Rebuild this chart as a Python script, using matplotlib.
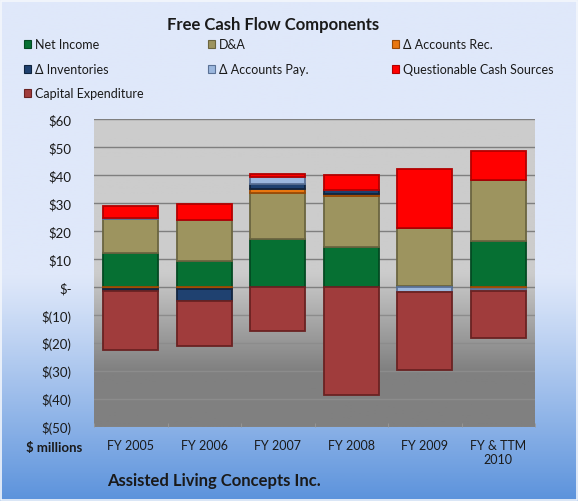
import numpy as np
import matplotlib
matplotlib.use('Agg')
import matplotlib.pyplot as plt
from matplotlib.colors import LinearSegmentedColormap
from matplotlib.patches import Rectangle

plt.rcParams['font.family'] = ['Lato', 'DejaVu Sans']

# data ($ millions)
years = ['FY 2005', 'FY 2006', 'FY 2007', 'FY 2008', 'FY 2009', 'FY & TTM\n2010']
net_income = [12.3, 9.4, 17.1, 14.3, 0.3, 16.5]
dna = [12.0, 14.6, 16.6, 18.2, 20.7, 21.7]
d_acc_rec = [-0.6, -0.7, 1.4, 0.6, 0.0, -0.7]
d_inventories = [-0.8, -4.2, 1.7, 1.5, 0.0, 0.0]
d_acc_pay = [0.4, 0.0, 2.4, 0.0, -1.7, -0.9]
questionable = [4.3, 5.8, 1.3, 5.5, 21.2, 10.3]
capex = [-21.0, -16.0, -15.8, -38.5, -27.9, -16.6]

series = [
    ('Net Income', net_income, '#067033', '#034a22'),
    ('D&A', dna, '#9d945f', '#6b6540'),
    ('Δ Accounts Rec.', d_acc_rec, '#e8760f', '#9a4a05'),
    ('Δ Inventories', d_inventories, '#1f4170', '#10243f'),
    ('Δ Accounts Pay.', d_acc_pay, '#9bb7de', '#5a7196'),
    ('Questionable Cash Sources', questionable, '#ff0000', '#b30000'),
    ('Capital Expenditure', capex, '#a03c3c', '#6a2222'),
]

W, H = 578, 502
fig = plt.figure(figsize=(W / 100, H / 100), dpi=100)

# figure background gradient (pale blue -> blue)
bg = fig.add_axes([0, 0, 1, 1], zorder=-10)
t = np.linspace(0, 1, 256)
ramp = np.clip((t - 0.55) / 0.45, 0, 1) ** 1.1
bg_cmap = LinearSegmentedColormap.from_list('bg', ['#dfe8fa', '#5c93dc'])
bg.imshow(ramp[:, None], aspect='auto', cmap=bg_cmap, extent=[0, 1, 0, 1],
          origin='upper', vmin=0, vmax=1)
bg.add_patch(Rectangle((0.002, 0.002), 0.996, 0.994, fill=False,
                       edgecolor='#f4f7fc', linewidth=1.2, transform=bg.transAxes))
bg.set_axis_off()

ax = fig.add_axes([94 / W, (H - 428) / H, (535 - 94) / W, (428 - 120) / H])
ax.set_xlim(-0.5, len(years) - 0.5)
ax.set_ylim(-50, 60)

# plot area gradient: flat light gray on top, darker toward the bottom
yy = np.linspace(60, -50, 300)
shade = np.clip((5 - yy) / 35, 0, 1)
pa_cmap = LinearSegmentedColormap.from_list('pa', ['#cccccc', '#808080'])
ax.imshow(shade[:, None], aspect='auto', cmap=pa_cmap, vmin=0, vmax=1,
          extent=[-0.5, len(years) - 0.5, -50, 60], origin='upper', zorder=0)

for yv in range(-50, 61, 10):
    ax.axhline(yv, color='#7f7f7f' if yv > -10 else '#8c8c8c', linewidth=1.0, zorder=1)

x = np.arange(len(years))
pos_base = np.zeros(len(years))
neg_base = np.zeros(len(years))
for name, vals, face, edge in series:
    vals = np.array(vals)
    base = np.where(vals >= 0, pos_base, neg_base)
    ax.bar(x, vals, bottom=base, width=0.75, color=face, edgecolor=edge,
           linewidth=1.3, label=name, zorder=3)
    pos_base = pos_base + np.where(vals > 0, vals, 0)
    neg_base = neg_base + np.where(vals < 0, vals, 0)

ax.set_xticks(x)
ax.set_xticklabels(years, fontsize=9, color='#1a1a1a')
ax.set_xticks(np.arange(len(years) + 1) - 0.5, minor=True)
ax.tick_params(axis='x', which='major', length=0, pad=9)
ax.tick_params(axis='x', which='minor', length=3, color='#999999', direction='in')

yt = list(range(-50, 61, 10))
ylabels = []
for v in yt:
    if v > 0:
        ylabels.append('$%d' % v)
    elif v == 0:
        ylabels.append('$-')
    else:
        ylabels.append('$(%d)' % -v)
ax.set_yticks(yt)
ax.set_yticklabels(ylabels, fontsize=9.5, color='#1a1a1a')
ax.tick_params(axis='y', length=0, pad=16)
for s in ax.spines.values():
    s.set_visible(False)

# title and legend
fig.text(273 / W, 1 - 25 / H, 'Free Cash Flow Components', ha='center', va='center',
         fontsize=12, fontweight='bold', color='#1a1a1a')
cols = [24, 208, 392]
rows = [45, 70, 94]
for i, (name, vals, face, edge) in enumerate(series):
    cx = cols[i % 3]
    cy = rows[i // 3]
    fig.patches.append(Rectangle((cx / W, 1 - (cy + 4) / H), 7 / W, 8 / H,
                                 facecolor=face, edgecolor=edge, linewidth=0.8,
                                 transform=fig.transFigure, figure=fig))
    fig.text((cx + 11) / W, 1 - cy / H, name, ha='left', va='center',
             fontsize=9, color='#1a1a1a')

fig.text(82 / W, 1 - 448 / H, '$ millions', ha='right', va='center',
         fontsize=9.5, fontweight='bold', color='#1a1a1a')
fig.text(107 / W, 1 - 481 / H, 'Assisted Living Concepts Inc.', ha='left', va='center',
         fontsize=12, fontweight='bold', color='#1a1a1a')

fig.savefig('out.png', dpi=100)
